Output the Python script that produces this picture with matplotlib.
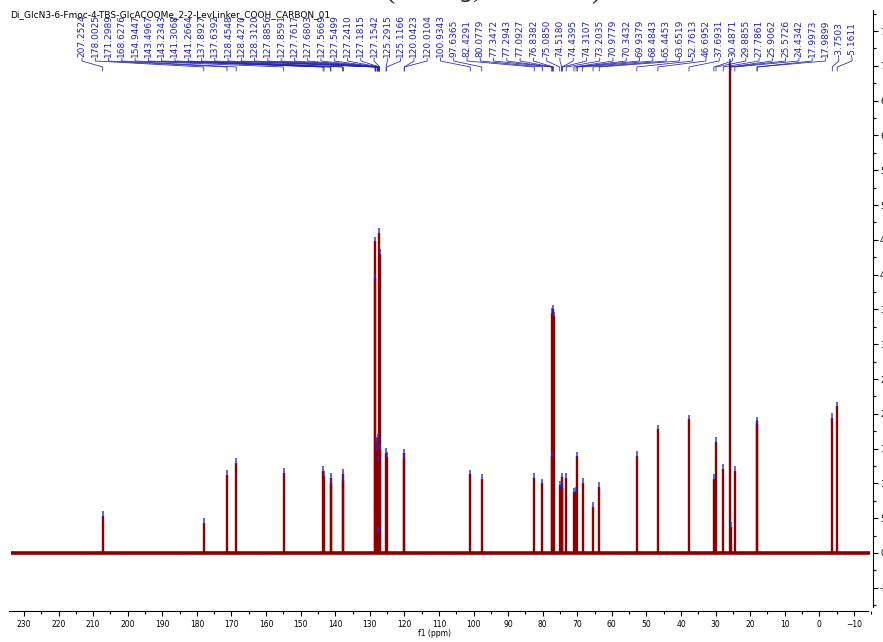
import numpy as np
import matplotlib
matplotlib.use("Agg")
import matplotlib.pyplot as plt
from matplotlib.transforms import blended_transform_factory
from matplotlib.ticker import MultipleLocator, FixedLocator

# picked peaks: chemical shift (ppm) and peak height
shifts = [207.2524, 178.0025, 171.2989, 168.6276, 154.9447, 143.4967, 143.2343,
          141.3068, 141.2664, 137.8927, 137.6392, 128.4548, 128.4270, 128.3120,
          127.8856, 127.8591, 127.7617, 127.6803, 127.5669, 127.5499, 127.2410,
          127.1815, 127.1542, 125.2915, 125.1166, 120.0423, 120.0104, 100.9343,
          97.6365, 82.4291, 80.0779, 77.3472, 77.2943, 77.0927, 76.8382, 75.0850,
          74.5180, 74.4395, 74.3107, 73.2035, 70.9779, 70.3432, 69.9379, 68.4843,
          65.4453, 63.6519, 52.7613, 46.6952, 37.6931, 30.4871, 29.8855, 27.7861,
          25.9062, 25.5726, 24.4342, 17.9973, 17.9899, -3.7503, -5.1611]
heights = [5350, 4330, 11270, 13000, 11560, 11850, 11130,
           10800, 10000, 11400, 10500, 44800, 39500, 16000,
           15700, 14800, 16500, 13300, 3300, 3000, 46000,
           43000, 15000, 14400, 13800, 14300, 13700, 11300,
           10700, 10800, 10000, 34500, 14000, 35000, 34000, 9700,
           10900, 9600, 9300, 10800, 8700, 8900, 13900, 10100,
           6650, 9500, 14000, 17800, 19200, 10700, 16000, 12100,
           70400, 3800, 11800, 18900, 18500, 19400, 21100]

x_ticks = list(range(230, -11, -10))
y_ticks = list(range(-5000, 75001, 5000))

title = "Di_GlcN3-6-Fmoc-4-TBS-GlcACOOMe_2-2-LevLinker_COOH_CARBON_01"

W, H = 883, 642
fig = plt.figure(figsize=(W / 100, H / 100), dpi=100)

# axes box in pixels: left 9, right 873, top 10, bottom 611
ax = fig.add_axes([9 / W, (H - 611) / H, (873 - 9) / W, (611 - 10) / H])
ax.set_xlim(234.34, -15.52)
ax.set_ylim(-8335, 78030)

red = "#8b0000"
blue = "#2323a8"

# baseline and peaks
ax.plot([233.8, -14.6], [0, 0], color=red, lw=2.6, solid_capstyle="butt")
ax.vlines(shifts, 0, heights, color=red, lw=1.7)
# peak-pick markers at the tops
ax.vlines(shifts, np.array(heights) - 150, np.array(heights) + 650,
          color="#2a2ac0", lw=1.5, alpha=0.7)

# spines: only bottom and right, as separate lines
for s in ["top", "left"]:
    ax.spines[s].set_visible(False)
ax.spines["bottom"].set_bounds(234.34, -14.1)
ax.spines["right"].set_bounds(-7800, 78030)
ax.spines["bottom"].set_linewidth(0.8)
ax.spines["right"].set_linewidth(0.8)

ax.xaxis.set_major_locator(FixedLocator(x_ticks))
ax.xaxis.set_minor_locator(MultipleLocator(5))
ax.tick_params(axis="x", which="major", direction="out", length=3.6, width=0.8,
               labelsize=5.5, pad=3)
ax.tick_params(axis="x", which="minor", direction="out", length=2, width=0.8)

ax.yaxis.tick_right()
ax.yaxis.set_major_locator(FixedLocator(y_ticks))
ax.yaxis.set_minor_locator(MultipleLocator(2500))
ax.set_yticklabels([str(v) for v in y_ticks])
ax.tick_params(axis="y", which="major", direction="out", length=3.6, width=0.8,
               labelsize=6, pad=1.5)
ax.tick_params(axis="y", which="minor", direction="out", length=2.5, width=0.8)

fig.text(434 / W, 1 - 634 / H, "f1 (ppm)", fontsize=5.5, ha="center", va="center")

# peak labels spread evenly along the top with connector lines
trans = blended_transform_factory(ax.transData, fig.transFigure)
lab_x = np.linspace(230 - (82 - 24) / 3.458, 230 - (852 - 24) / 3.458, len(shifts))
fy = lambda p: 1 - p / H
for lx, px in zip(lab_x, shifts):
    ax.text(lx, fy(57), f"{px:.4f}", rotation=90, ha="center", va="bottom",
            fontsize=6.5, color=blue, transform=trans, clip_on=False)
    ax.plot([lx, lx, px, px], [fy(58), fy(61), fy(67), fy(71)], color=blue,
            lw=0.55, transform=trans, clip_on=False)

fig.text(10 / W, 1 - 15 / H, title, fontsize=6.5, ha="left", va="center")
# big heading sits above the page, only its descenders show
fig.text(385 / W, 1 + 1.5 / H, "(CDCl$_3$, 151 MHz)", fontsize=20,
         family="Liberation Serif", ha="left", va="baseline", color="#222222")

fig.savefig("out.png", dpi=100)
